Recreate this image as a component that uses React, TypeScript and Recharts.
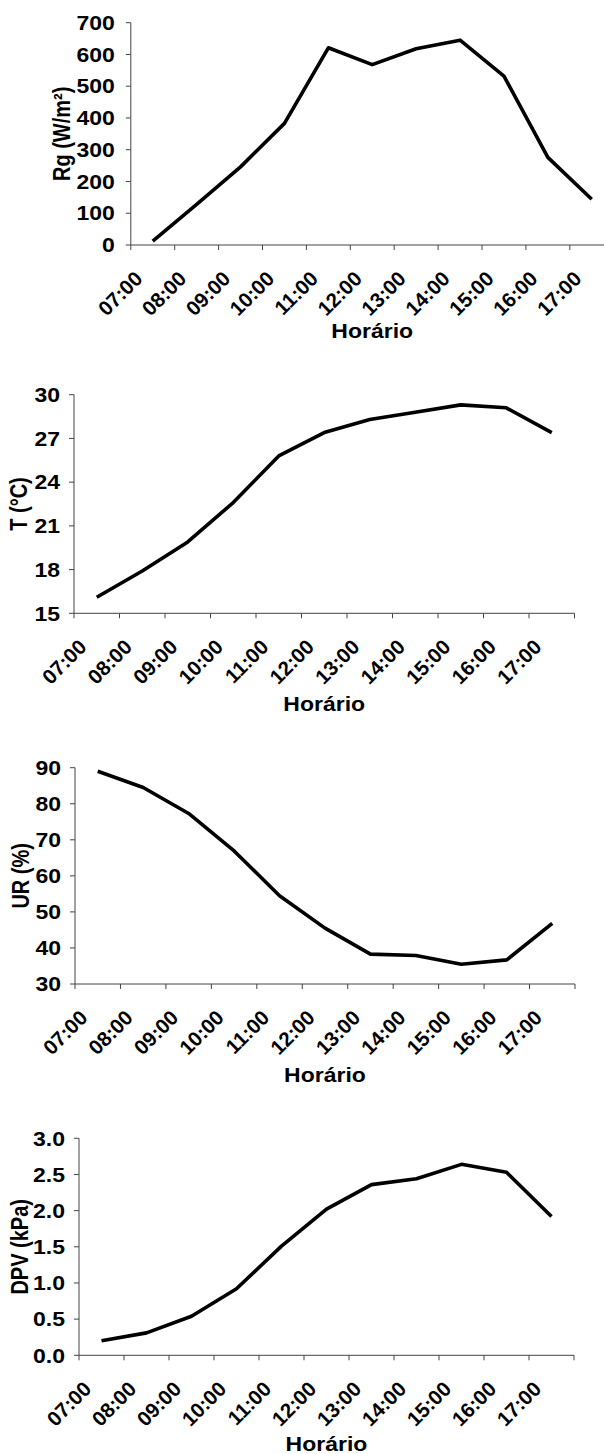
import React from 'react'
import { LineChart, Line, XAxis, YAxis } from 'recharts'

const horas = ['07:00', '08:00', '09:00', '10:00', '11:00', '12:00', '13:00', '14:00', '15:00', '16:00', '17:00']
const rg = [12, 128, 246, 383, 621, 568, 618, 645, 532, 276, 144]
const temp = [16.1, 17.9, 19.9, 22.6, 25.8, 27.4, 28.3, 28.8, 29.3, 29.1, 27.4]
const ur = [89, 84.5, 77.3, 66.9, 54.5, 45.5, 38.3, 37.9, 35.5, 36.7, 46.8]
const dpv = [0.2, 0.31, 0.54, 0.92, 1.51, 2.02, 2.36, 2.44, 2.64, 2.53, 1.92]

const rgTicks = [0, 100, 200, 300, 400, 500, 600, 700]
const tempTicks = [15, 18, 21, 24, 27, 30]
const urTicks = [30, 40, 50, 60, 70, 80, 90]
const dpvTicks = [0, 0.5, 1, 1.5, 2, 2.5, 3]

const AXIS = '#444'
const FONT = '"Liberation Sans", Arial, sans-serif'

interface PanelProps {
    top: number
    width: number
    height: number
    values: number[]
    ticks: number[]
    fmt?: (v: number) => string
    yAxisWidth: number
    plotTop: number
    plotBottom: number
    plotRight: number
    tickGap: number
    yLabel: string
    yLabelX: number
    titleDy: number
}

const XAXIS_H = 80

function Panel(p: PanelProps) {
    const data = horas.map((h, i) => ({ hora: h, v: p.values[i] }))
    const bw = (p.plotRight - p.yAxisWidth) / horas.length
    const fmt = p.fmt || ((v: number) => String(v))

    // label sits between two tick marks, like the excel category axis
    const XTick = (props: any) => {
        const { x, y, payload, index } = props
        return (
            <g>
                <line x1={x - bw / 2} x2={x - bw / 2} y1={y} y2={y + 5} stroke={AXIS} />
                {index === horas.length - 1 && <line x1={x + bw / 2} x2={x + bw / 2} y1={y} y2={y + 5} stroke={AXIS} />}
                <text
                    transform={`translate(${x - 9},${y + 35}) rotate(-45)`}
                    textAnchor="end"
                    fontFamily={FONT}
                    fontWeight="bold"
                    fontSize={20.5}
                    fill="#000"
                >
                    {payload.value}
                </text>
            </g>
        )
    }

    const YTick = (props: any) => {
        const { x, y, payload } = props
        return (
            <g transform={`translate(${x},${y}) scale(1.15,1)`}>
                <text textAnchor="end" dy="0.36em" fontFamily={FONT} fontWeight="bold" fontSize={20} fill="#000">
                    {fmt(payload.value)}
                </text>
            </g>
        )
    }

    return (
        <div style={{ position: 'absolute', left: 0, top: p.top }}>
            <LineChart
                width={p.width}
                height={p.height}
                data={data}
                margin={{ top: p.plotTop, right: p.width - p.plotRight, bottom: p.height - p.plotBottom - XAXIS_H, left: 0 }}
            >
                <XAxis
                    dataKey="hora"
                    scale="band"
                    height={XAXIS_H}
                    interval={0}
                    tickLine={false}
                    tickSize={0}
                    tickMargin={0}
                    axisLine={{ stroke: AXIS }}
                    tick={XTick}
                    label={{
                        content: (lp: any) => {
                            const vb = lp.viewBox
                            return (
                                <g transform={`translate(${vb.x + vb.width / 2},${vb.y + p.titleDy}) scale(1.15,1)`}>
                                    <text textAnchor="middle" fontFamily={FONT} fontWeight="bold" fontSize={20} fill="#000">
                                        Horário
                                    </text>
                                </g>
                            )
                        },
                    }}
                />
                <YAxis
                    width={p.yAxisWidth}
                    domain={[p.ticks[0], p.ticks[p.ticks.length - 1]]}
                    ticks={p.ticks}
                    interval={0}
                    tickSize={5}
                    tickMargin={p.tickGap}
                    tickLine={{ stroke: AXIS }}
                    axisLine={{ stroke: AXIS }}
                    tick={YTick}
                    label={{
                        content: (lp: any) => {
                            const vb = lp.viewBox
                            return (
                                <g transform={`translate(${p.yLabelX},${vb.y + vb.height / 2}) scale(1.15,1) rotate(-90)`}>
                                    <text textAnchor="middle" fontFamily={FONT} fontWeight="bold" fontSize={20} fill="#000">
                                        {p.yLabel}
                                    </text>
                                </g>
                            )
                        },
                    }}
                />
                <Line
                    type="linear"
                    dataKey="v"
                    stroke="#000"
                    strokeWidth={3.6}
                    strokeLinejoin="round"
                    dot={false}
                    isAnimationActive={false}
                />
            </LineChart>
        </div>
    )
}

export default function App() {
    return (
        <div style={{ position: 'absolute', left: 0, top: 0, width: 604, height: 1454, overflow: 'hidden', background: '#fff' }}>
            <Panel
                top={0}
                width={620}
                height={360}
                values={rg}
                ticks={rgTicks}
                yAxisWidth={130.8}
                plotTop={22.7}
                plotBottom={245}
                plotRight={613.7}
                tickGap={11}
                yLabel="Rg (W/m²)"
                yLabelX={70}
                titleDy={93}
            />
            <Panel
                top={360}
                width={604}
                height={360}
                values={temp}
                ticks={tempTicks}
                yAxisWidth={74}
                plotTop={34.7}
                plotBottom={253.3}
                plotRight={574.5}
                tickGap={9}
                yLabel="T (°C)"
                yLabelX={27}
                titleDy={98}
            />
            <Panel
                top={720}
                width={604}
                height={370}
                values={ur}
                ticks={urTicks}
                yAxisWidth={75}
                plotTop={47.7}
                plotBottom={264}
                plotRight={575}
                tickGap={9}
                yLabel="UR (%)"
                yLabelX={28.5}
                titleDy={98}
            />
            <Panel
                top={1090}
                width={604}
                height={364}
                values={dpv}
                ticks={dpvTicks}
                fmt={v => v.toFixed(1)}
                yAxisWidth={79}
                plotTop={48.3}
                plotBottom={265.3}
                plotRight={574}
                tickGap={9}
                yLabel="DPV (kPa)"
                yLabelX={27.5}
                titleDy={95.5}
            />
        </div>
    )
}
